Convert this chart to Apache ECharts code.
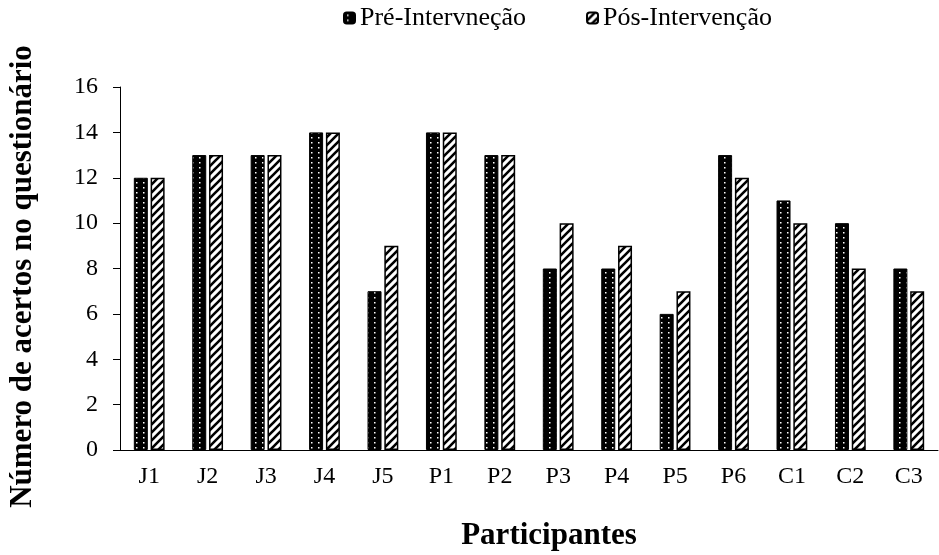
<!DOCTYPE html>
<html>
<head>
<meta charset="utf-8">
<script src="https://cdn.jsdelivr.net/npm/echarts@6/dist/echarts.min.js"></script>
<style>
html, body { margin: 0; padding: 0; background: #fff; }
#chart { width: 939px; height: 555px; }
</style>
</head>
<body>
<div id="chart"></div>
<script>
var categories = ['J1', 'J2', 'J3', 'J4', 'J5', 'P1', 'P2', 'P3', 'P4', 'P5', 'P6', 'C1', 'C2', 'C3'];
var preValues = [12, 13, 13, 14, 7, 14, 13, 8, 8, 6, 13, 11, 10, 8];
var postValues = [12, 13, 13, 14, 9, 14, 13, 10, 9, 7, 12, 10, 8, 7];
var seriesNames = ['Pré-Intervneção', 'Pós-Intervenção'];

// dotted black fill
function dotPattern() {
    var c = document.createElement('canvas');
    c.width = 7; c.height = 5;
    var ctx = c.getContext('2d');
    ctx.fillStyle = '#000';
    ctx.fillRect(0, 0, 7, 5);
    ctx.fillStyle = '#fff';
    ctx.fillRect(3, 2, 1.5, 1.5);
    return c;
}
// diagonal hatch fill
function hatchPattern() {
    var c = document.createElement('canvas');
    c.width = 8; c.height = 8;
    var ctx = c.getContext('2d');
    ctx.fillStyle = '#fff';
    ctx.fillRect(0, 0, 8, 8);
    ctx.strokeStyle = '#000';
    ctx.lineWidth = 2.6;
    ctx.beginPath();
    ctx.moveTo(-1, 9); ctx.lineTo(9, -1);
    ctx.moveTo(-5, 5); ctx.lineTo(5, -5);
    ctx.moveTo(3, 13); ctx.lineTo(13, 3);
    ctx.stroke();
    return c;
}

var font = 'Liberation Serif';
var myChart = echarts.init(document.getElementById('chart'));
var option = {
    animation: false,
    textStyle: { fontFamily: font },
    legend: {
        top: 0,
        left: 338,
        itemGap: 60,
        itemWidth: 11,
        itemHeight: 11,
        textStyle: { fontFamily: font, fontSize: 26, color: '#000' },
        data: seriesNames
    },
    grid: { left: 120, right: 1, top: 87, bottom: 105, outerBoundsMode: 'none' },
    xAxis: {
        type: 'category',
        data: categories,
        name: 'Participantes',
        nameLocation: 'middle',
        nameGap: 70,
        nameTextStyle: { fontFamily: font, fontSize: 31, fontWeight: 'bold', color: '#000', padding: [0, 0, 0, 40] },
        axisLine: { lineStyle: { color: '#000', width: 1 } },
        axisTick: { show: false },
        axisLabel: { fontFamily: font, fontSize: 24, color: '#000', margin: 15 }
    },
    yAxis: {
        type: 'value',
        min: 0,
        max: 16,
        interval: 2,
        name: 'Número de acertos no questionário',
        nameLocation: 'middle',
        nameGap: 82,
        nameTextStyle: { fontFamily: font, fontSize: 31, fontWeight: 'bold', color: '#000', padding: [0, 16, 0, 0] },
        axisLine: { show: true, lineStyle: { color: '#000', width: 1 } },
        axisTick: { show: true, length: 7, lineStyle: { color: '#000' } },
        axisLabel: { fontFamily: font, fontSize: 24, color: '#000', margin: 22 },
        splitLine: { show: false }
    },
    series: [
        {
            name: seriesNames[0],
            type: 'bar',
            data: preValues,
            barWidth: 14,
            barGap: '20%',
            itemStyle: {
                color: { image: dotPattern(), repeat: 'repeat' },
                borderColor: '#000',
                borderWidth: 1
            }
        },
        {
            name: seriesNames[1],
            type: 'bar',
            data: postValues,
            barWidth: 14,
            barGap: '20%',
            itemStyle: {
                color: { image: hatchPattern(), repeat: 'repeat' },
                borderColor: '#000',
                borderWidth: 1.5
            }
        }
    ]
};
myChart.setOption(option);
</script>
</body>
</html>
